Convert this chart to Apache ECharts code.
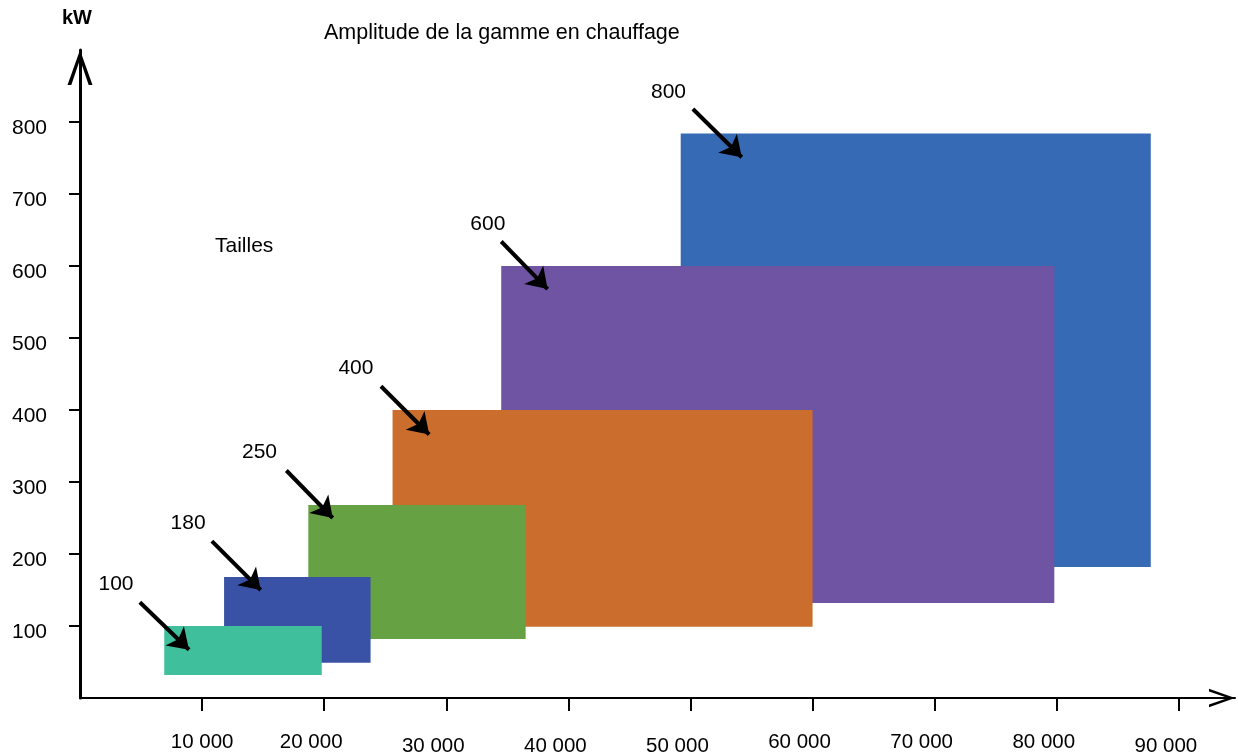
<!DOCTYPE html>
<html>
<head>
<meta charset="utf-8">
<script src="https://cdn.jsdelivr.net/npm/echarts@6/dist/echarts.min.js"></script>
<style>
  html, body { margin: 0; padding: 0; background: #fff; }
  #chart { width: 1238px; height: 756px; }
</style>
</head>
<body>
<div id="chart"></div>
<script>
// tailles (kW), drawn back to front
const sizes = ['800', '600', '400', '250', '180', '100'];
const xStart = [49200, 34500, 25600, 18700, 11800, 6900];
const xEnd = [87700, 79800, 60000, 36500, 23800, 19800];
const yLow = [182, 132, 99, 82, 49, 32];
const yHigh = [784, 600, 400, 268, 168, 100];
const colors = ['#376ab5', '#6e54a3', '#cb6d2c', '#66a243', '#3a52a5', '#3fbf9c'];

// annotation labels and arrows (data coords)
const labelAt = [[48200, 841], [33400, 658], [22600, 458], [14700, 341], [8850, 243], [2950, 158]];
const arrowFrom = [[50200, 818], [34500, 634], [24650, 433], [16900, 316], [10800, 218], [4900, 133]];
const arrowTo = [[54200, 751], [38300, 568], [28600, 366], [20700, 250], [14800, 150], [8930, 67]];

const xTicks = [10000, 20000, 30000, 40000, 50000, 60000, 70000, 80000, 90000];
const yTicks = [100, 200, 300, 400, 500, 600, 700, 800];
const xLowLabels = [30000, 40000, 50000, 90000];

const FONT = "'Liberation Sans', Arial, sans-serif";

const chart = echarts.init(document.getElementById('chart'));

const fmtThousands = v => String(v).replace(/\B(?=(\d{3})+(?!\d))/g, ' ');

// open chevron used as arrow head on both axes
const chevronUp = 'path://M0,35 L12.5,0 L25,35 L21.2,35 L12.5,9.5 L3.8,35 Z';

const option = {
  animation: false,
  backgroundColor: '#fff',
  title: {
    text: 'Amplitude de la gamme en chauffage',
    left: 319,
    top: 17,
    textStyle: { fontFamily: FONT, fontSize: 21.5, fontWeight: 'normal', color: '#000' }
  },
  graphic: [{
    type: 'text',
    left: 215,
    top: 236,
    style: { text: 'Tailles', font: '21px ' + FONT, fill: '#000' }
  }],
  grid: { left: 80, right: 3, top: 50, bottom: 58, containLabel: false, outerBoundsMode: 'none' },
  xAxis: {
    type: 'value',
    min: 0,
    max: 94600,
    splitLine: { show: false },
    axisLine: {
      onZero: false,
      lineStyle: { color: '#000', width: 2 },
      symbol: ['none', chevronUp],
      symbolSize: [25, 26],
      symbolOffset: [0, -13]
    },
    axisTick: {
      customValues: xTicks,
      length: 13,
      lineStyle: { color: '#000', width: 2 }
    },
    axisLabel: {
      customValues: xTicks,
      margin: 34,
      fontFamily: FONT,
      fontSize: 20.5,
      color: '#000',
      formatter: v => {
        const txt = fmtThousands(v);
        if (v === 10000) return '{a|' + txt + '}';
        return (xLowLabels.includes(v) ? '{c|' : '{b|') + txt + '}';
      },
      rich: {
        a: { fontFamily: FONT, fontSize: 20.5, color: '#000' },
        b: { fontFamily: FONT, fontSize: 20.5, color: '#000', padding: [0, 26, 0, 0] },
        c: { fontFamily: FONT, fontSize: 20.5, color: '#000', padding: [4, 26, 0, 0] }
      }
    }
  },
  yAxis: {
    type: 'value',
    min: 0,
    max: 900,
    name: 'kW',
    nameLocation: 'end',
    nameGap: 22,
    nameTextStyle: { fontFamily: FONT, fontSize: 20, fontWeight: 'bold', color: '#000', align: 'center', padding: [0, 6, 0, 0] },
    splitLine: { show: false },
    axisLine: {
      lineStyle: { color: '#000', width: 3 },
      symbol: ['none', chevronUp],
      symbolSize: [25, 35],
      symbolOffset: [0, -17.5]
    },
    axisTick: {
      customValues: yTicks,
      length: 11,
      lineStyle: { color: '#000', width: 2 }
    },
    axisLabel: {
      customValues: yTicks,
      margin: 33,
      color: '#000',
      formatter: v => '{v|' + v + '}',
      rich: {
        v: { fontFamily: FONT, fontSize: 21, color: '#000', padding: [12, 0, 0, 0] }
      }
    }
  },
  series: [
    {
      type: 'custom',
      silent: true,
      renderItem: (params, api) => {
        const p1 = api.coord([api.value(0), api.value(3)]);
        const p2 = api.coord([api.value(1), api.value(2)]);
        return {
          type: 'rect',
          shape: { x: p1[0], y: p1[1], width: p2[0] - p1[0], height: p2[1] - p1[1] },
          style: { fill: api.visual('color') }
        };
      },
      encode: { x: [0, 1], y: [2, 3] },
      data: sizes.map((s, i) => ({
        name: s,
        value: [xStart[i], xEnd[i], yLow[i], yHigh[i]],
        itemStyle: { color: colors[i] }
      }))
    },
    {
      type: 'lines',
      coordinateSystem: 'cartesian2d',
      silent: true,
      symbol: ['none', 'arrow'],
      symbolSize: [16, 20],
      lineStyle: { color: '#000', width: 4, opacity: 1 },
      data: sizes.map((s, i) => ({ coords: [arrowFrom[i], arrowTo[i]] })),
      z: 5
    },
    {
      type: 'scatter',
      silent: true,
      symbolSize: 0,
      itemStyle: { opacity: 1 },
      label: {
        show: true,
        position: 'inside',
        formatter: p => p.name,
        fontFamily: FONT,
        fontSize: 21,
        color: '#000'
      },
      data: sizes.map((s, i) => ({ name: s, value: labelAt[i] })),
      z: 5
    }
  ]
};

chart.setOption(option);
</script>
</body>
</html>
